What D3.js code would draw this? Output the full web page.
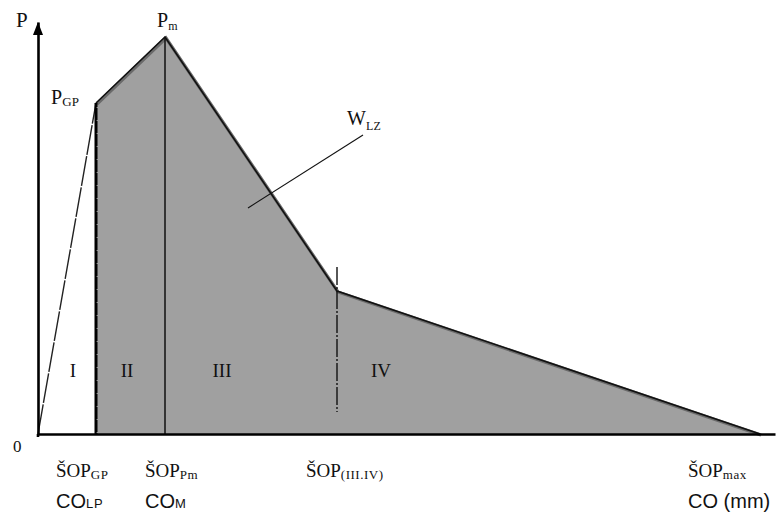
<!DOCTYPE html>
<html><head><meta charset="utf-8">
<script src="https://cdn.jsdelivr.net/npm/d3@7"></script>
<style>body{margin:0;background:#fff}svg{display:block}</style>
</head><body>
<svg id="chart" width="779" height="514"></svg>
<script>
// ---- data (arbitrary units) ----
const curveX = [0, 5.8, 12.7, 29.9, 72.2];      // CO (mm)
const curveP = [0, 33.1, 39.7, 14.3, 0];        // P
const regionLabels = ["I", "II", "III", "IV"];
const regionX = [3.5, 8.9, 18.4, 34.3];
const regionP = [5.7, 5.7, 5.7, 5.7];
const tickMain = ["ŠOP", "ŠOP", "ŠOP", "ŠOP"];
const tickSub = ["GP", "Pm", "(III.IV)", "max"];
const tickX = [1.8, 10.7, 26.8, 65.0];
const unitMain = ["CO", "CO", "CO (mm)"];
const unitSub = ["LP", "M", ""];
const unitX = [1.8, 10.7, 65.0];
const pointMain = ["P", "P"];
const pointSub = ["GP", "m"];
const areaLabel = {main: "W", sub: "LZ"};
const leaderX = [21.0, 32.5];
const leaderP = [22.6, 29.9];
const dashTop = 16.7, dashBottom = 2.2;

const svg = d3.select("#chart");
const x = d3.scaleLinear().domain([0, 73.7]).range([38, 775]);
const y = d3.scaleLinear().domain([0, 41.2]).range([434, 22]);
const serif = "'Liberation Serif','Times New Roman',serif";
const sans = "'Liberation Sans',Arial,sans-serif";

// shaded work area (from P_GP onwards)
const area = [[curveX[1], 0]].concat(curveX.slice(1).map((v, i) => [v, curveP[i + 1]]));
svg.append("path")
  .attr("d", d3.line().x(d => x(d[0])).y(d => y(d[1]))(area) + "Z")
  .attr("fill", "#a0a0a0");

// outline
const pts = curveX.map((v, i) => [v, curveP[i]]);
svg.append("path")
  .attr("d", d3.line().x(d => x(d[0])).y(d => y(d[1]))(pts.slice(1)))
  .attr("fill", "none").attr("stroke", "#6a6a6a").attr("stroke-width", 3.2)
  .attr("transform", "translate(1,1)");
svg.append("path")
  .attr("d", d3.line().x(d => x(d[0])).y(d => y(d[1]))(pts.slice(1)))
  .attr("fill", "none").attr("stroke", "#111").attr("stroke-width", 1.6);
svg.append("path")
  .attr("d", d3.line().x(d => x(d[0])).y(d => y(d[1]))(pts.slice(0, 2)))
  .attr("fill", "none").attr("stroke", "#222").attr("stroke-width", 1.4)
  .attr("stroke-dasharray", "30,1.5");

// vertical at P_GP (thick)
svg.append("line")
  .attr("x1", x(curveX[1])).attr("x2", x(curveX[1]))
  .attr("y1", y(curveP[1])).attr("y2", y(0))
  .attr("stroke", "#000").attr("stroke-width", 3);
svg.append("line")
  .attr("x1", x(curveX[1]) + 1.2).attr("x2", x(curveX[1]) + 1.2)
  .attr("y1", y(curveP[1]) + 4).attr("y2", y(0))
  .attr("stroke", "#ddd").attr("stroke-width", 0.8).attr("stroke-dasharray", "1,12");
// vertical at P_m
svg.append("line")
  .attr("x1", x(curveX[2])).attr("x2", x(curveX[2]))
  .attr("y1", y(curveP[2])).attr("y2", y(0))
  .attr("stroke", "#111").attr("stroke-width", 1.5);
// dashed III/IV boundary
svg.append("line")
  .attr("x1", x(curveX[3])).attr("x2", x(curveX[3]))
  .attr("y1", y(dashTop)).attr("y2", y(dashBottom))
  .attr("stroke", "#111").attr("stroke-width", 1.4)
  .attr("stroke-dasharray", "18,2,2,2");

// axes
const gx = svg.append("g").attr("transform", `translate(0,${y(0)})`)
  .call(d3.axisBottom(x).tickValues([]).tickSizeOuter(0));
gx.select(".domain").attr("stroke", "#000").attr("stroke-width", 2.6);
const gy = svg.append("g").attr("transform", `translate(${x(0)},0)`)
  .call(d3.axisLeft(y).tickValues([]).tickSizeOuter(0));
gy.select(".domain").attr("stroke", "#000").attr("stroke-width", 2.6);
svg.append("line").attr("x1", x(0)).attr("x2", x(0)).attr("y1", y(0)).attr("y2", y(0) + 3)
  .attr("stroke", "#000").attr("stroke-width", 2.6);
const tipY = y(41.2) + 0;
svg.append("path")
  .attr("d", `M${x(0)},${tipY} L${x(0) - 5},${tipY + 13} L${x(0) + 5},${tipY + 13} Z`)
  .attr("fill", "#000");

// helper for text with subscript
function sublabel(px, py, main, sub, family, size, subSize, dy, subSpacing) {
  const t = svg.append("text").attr("x", px).attr("y", py)
    .attr("font-family", family).attr("font-size", size).attr("fill", "#111");
  t.append("tspan").text(main);
  if (sub) t.append("tspan").attr("dy", dy).attr("font-size", subSize)
    .attr("letter-spacing", subSpacing || 0).text(sub);
  return t;
}

// axis letters
svg.append("text").attr("x", 16).attr("y", 27).attr("font-family", serif)
  .attr("font-size", 21).attr("fill", "#111").text("P");
svg.append("text").attr("x", 13).attr("y", 452).attr("font-family", serif)
  .attr("font-size", 17).attr("fill", "#111").text("0");

// point labels
sublabel(x(curveX[1]) - 45, y(curveP[1]) + 1, pointMain[0], pointSub[0], serif, 20, 13, 2, 0.3);
sublabel(x(curveX[2]) - 8, y(curveP[2]) - 10, pointMain[1], pointSub[1], serif, 20, 12, 3, 0);

// region labels
regionLabels.forEach((r, i) => {
  svg.append("text").attr("x", x(regionX[i])).attr("y", y(regionP[i]))
    .attr("text-anchor", "middle").attr("font-family", serif)
    .attr("font-size", 19).attr("fill", "#111").text(r);
});

// W_LZ leader and label
svg.append("line")
  .attr("x1", x(leaderX[0])).attr("y1", y(leaderP[0]))
  .attr("x2", x(leaderX[1])).attr("y2", y(leaderP[1]))
  .attr("stroke", "#111").attr("stroke-width", 1.1);
sublabel(347, 125, areaLabel.main, areaLabel.sub, serif, 20, 12, 5, 0.3);

// bottom labels
tickMain.forEach((m, i) => {
  sublabel(x(tickX[i]), 477, m, tickSub[i], serif, 19, 13, 2, 0.5);
});
unitMain.forEach((m, i) => {
  sublabel(x(unitX[i]), 508, m, unitSub[i], sans, 20, 13, 0, 0.8);
});
</script>
</body></html>
